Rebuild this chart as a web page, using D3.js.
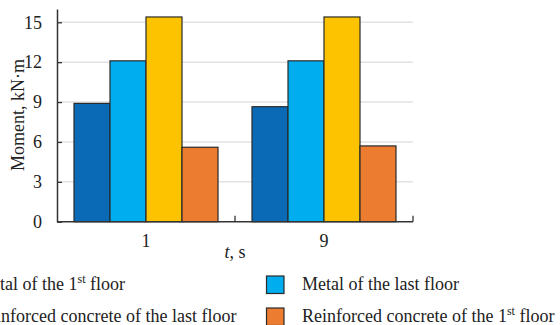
<!DOCTYPE html>
<html>
<head>
<meta charset="utf-8">
<script src="https://cdn.jsdelivr.net/npm/d3@7/dist/d3.min.js"></script>
<style>
  html, body { margin: 0; padding: 0; background: #fff; }
  svg { display: block; }
  svg text { font-family: "Liberation Serif", "Times New Roman", serif; }
</style>
</head>
<body>
<svg id="chart" width="560" height="325"></svg>
<script>
// Time instants (s)
const categories = ["1", "9"];
// Series: bending moment, kN·m
const seriesKeys = ["metal1", "metalLast", "rcLast", "rc1"];
const metal1 = [8.9, 8.65];
const metalLast = [12.1, 12.1];
const rcLast = [15.4, 15.4];
const rc1 = [5.6, 5.7];
const yTicks = [0, 3, 6, 9, 12, 15];

const seriesValues = { metal1, metalLast, rcLast, rc1 };
const colors = { metal1: "#0a6ab6", metalLast: "#00adef", rcLast: "#fdc300", rc1: "#ec7c30" };
// Legend labels: [main, superscript, tail]
const legendItems = [
  { key: "metal1", parts: ["Metal of the 1", "st", " floor"] },
  { key: "metalLast", parts: ["Metal of the last floor", "", ""] },
  { key: "rcLast", parts: ["Reinforced concrete of the last floor", "", ""] },
  { key: "rc1", parts: ["Reinforced concrete of the 1", "st", " floor"] }
];

const svg = d3.select("#chart");
const plotLeft = 57, plotRight = 413, plotTop = 9, plotBottom = 221.7;

const x = d3.scaleBand().domain(categories).range([plotLeft, plotRight]).padding(0);
const xi = d3.scaleBand().domain(seriesKeys).range([17, x.bandwidth() - 17]).padding(0);
const y = d3.scaleLinear().domain([0, 16]).range([plotBottom, plotTop]);

// Grid lines
svg.append("g").selectAll("line").data(yTicks.filter(d => d > 0)).join("line")
  .attr("x1", plotLeft).attr("x2", plotRight)
  .attr("y1", d => y(d)).attr("y2", d => y(d))
  .attr("stroke", "#e2e2e2").attr("stroke-width", 1.5);

// Bars
const rows = categories.map((c, i) => ({ cat: c, vals: seriesKeys.map(k => ({ key: k, value: seriesValues[k][i] })) }));
svg.append("g").selectAll("g").data(rows).join("g")
  .attr("transform", d => `translate(${x(d.cat)},0)`)
  .selectAll("rect").data(d => d.vals).join("rect")
  .attr("x", d => xi(d.key))
  .attr("y", d => y(d.value))
  .attr("width", xi.bandwidth())
  .attr("height", d => y(0) - y(d.value))
  .attr("fill", d => colors[d.key])
  .attr("stroke", "#2a2a2a").attr("stroke-width", 1.2);

// Y axis
const yAxis = d3.axisLeft(y).tickValues(yTicks).tickSize(-5).tickPadding(15).tickSizeOuter(0);
const gy = svg.append("g").attr("transform", `translate(${plotLeft},0)`).call(yAxis)
  .attr("font-family", null).attr("font-size", null);
gy.select(".domain").attr("stroke", "#333").attr("stroke-width", 1.5);
gy.selectAll(".tick line").attr("stroke", "#333").attr("stroke-width", 1.3);
gy.selectAll(".tick text").attr("font-size", 18).attr("fill", "#222")
  .style("font-family", "'Liberation Serif', serif");

// X axis baseline with ticks at group boundaries
const gx = svg.append("g");
gx.append("line").attr("x1", plotLeft).attr("x2", plotRight).attr("y1", plotBottom).attr("y2", plotBottom)
  .attr("stroke", "#333").attr("stroke-width", 1.5);
gx.selectAll(".bt").data(categories).join("line").attr("class", "bt")
  .attr("x1", d => x(d) + x.bandwidth()).attr("x2", d => x(d) + x.bandwidth())
  .attr("y1", plotBottom).attr("y2", plotBottom - 6)
  .attr("stroke", "#333").attr("stroke-width", 1.3);
gx.selectAll(".lbl").data(categories).join("text").attr("class", "lbl")
  .attr("x", d => x(d) + x.bandwidth() / 2).attr("y", 247)
  .attr("text-anchor", "middle").attr("font-size", 18).attr("fill", "#222")
  .text(d => d);

// Axis titles
const xt = svg.append("text").attr("x", (plotLeft + plotRight) / 2).attr("y", 258)
  .attr("text-anchor", "middle").attr("font-size", 18).attr("fill", "#222");
xt.append("tspan").attr("font-style", "italic").text("t");
xt.append("tspan").text(", s");

svg.append("text").attr("transform", "translate(24,115) rotate(-90)")
  .attr("text-anchor", "middle").attr("font-size", 18).attr("fill", "#222")
  .text("Moment, kN·m");

// Legend: two columns, two rows
const colX = [-24, 302], rowY = [290, 322];
const lg = svg.append("g").selectAll("g").data(legendItems).join("g")
  .attr("transform", (d, i) => `translate(${colX[i % 2]},${rowY[Math.floor(i / 2)]})`);
lg.append("rect").attr("x", -35.5).attr("y", -14).attr("width", 17.5).attr("height", 17.5)
  .attr("fill", d => colors[d.key]).attr("stroke", "#2a2a2a").attr("stroke-width", 1.2);
const lt = lg.append("text").attr("font-size", 18).attr("fill", "#222");
lt.append("tspan").text(d => d.parts[0]);
lt.append("tspan").attr("font-size", 12).attr("dy", -7).text(d => d.parts[1]);
lt.append("tspan").attr("dy", d => d.parts[1] ? 7 : 0).text(d => d.parts[2]);
</script>
</body>
</html>
